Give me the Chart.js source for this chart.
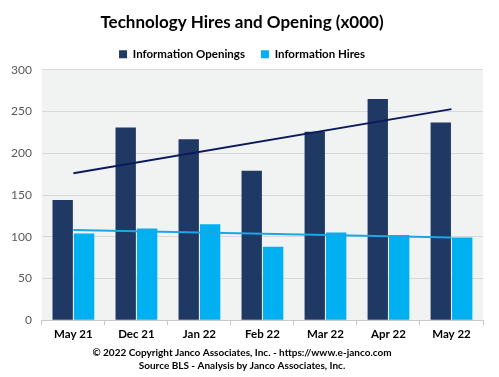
<!DOCTYPE html>
<html>
<head>
<meta charset="utf-8">
<script src="https://cdn.jsdelivr.net/npm/chart.js@4"></script>
<style>
  html, body { margin: 0; padding: 0; background: #fff; }
  #wrap { width: 499px; height: 377px; }
</style>
</head>
<body>
<div id="wrap"><canvas id="chart"></canvas></div>
<script>
// Values (thousands)
const months = ['May 21', 'Dec 21', 'Jan 22', 'Feb 22', 'Mar 22', 'Apr 22', 'May 22'];
const openings = [144, 231, 217, 179, 226, 265, 237];
const hires = [104, 110, 115, 88, 105, 102, 99];
// Trend line end points, as drawn in the reference
const openingsTrend = [176, null, null, null, null, null, 253];
const hiresTrend = [108, null, null, null, null, null, 99];
const yTicks = [0, 50, 100, 150, 200, 250, 300];

const navy = '#1f3864';
const cyan = '#00b0f0';

// grey plot area background
const plotBg = {
  id: 'plotBg',
  beforeDraw(chart) {
    const { ctx, chartArea: a } = chart;
    ctx.save();
    ctx.fillStyle = '#f1f2f2';
    ctx.fillRect(a.left, a.top, a.right - a.left, a.bottom - a.top);
    ctx.restore();
  }
};

new Chart(document.getElementById('chart'), {
  type: 'bar',
  data: {
    labels: months,
    datasets: [
      {
        label: 'Information Openings',
        data: openings,
        backgroundColor: navy,
        categoryPercentage: 0.68,
        barPercentage: 0.95,
        order: 2
      },
      {
        label: 'Information Hires',
        data: hires,
        backgroundColor: cyan,
        categoryPercentage: 0.68,
        barPercentage: 0.95,
        order: 2
      },
      {
        type: 'line',
        label: 'openings trend',
        data: openingsTrend,
        borderColor: '#0c1a5c',
        borderWidth: 2,
        pointRadius: 0,
        spanGaps: true,
        order: 1
      },
      {
        type: 'line',
        label: 'hires trend',
        data: hiresTrend,
        borderColor: '#1aa7e8',
        borderWidth: 2,
        pointRadius: 0,
        spanGaps: true,
        order: 1
      }
    ]
  },
  options: {
    responsive: true,
    maintainAspectRatio: false,
    animation: false,
    layout: { padding: { left: 1, right: 16, top: 6, bottom: 5 } },
    scales: {
      x: {
        grid: {
          offset: true,
          drawOnChartArea: false,
          drawTicks: true,
          tickLength: 5,
          color: '#c8c8c8'
        },
        border: { color: '#c8c8c8' },
        ticks: {
          color: '#000',
          font: { family: 'Lato', size: 11.5, weight: 'bold' },
          padding: 2
        }
      },
      y: {
        min: 0,
        max: 300,
        afterBuildTicks(axis) {
          axis.ticks = yTicks.map(v => ({ value: v }));
        },
        grid: { color: '#d9d9d9', drawTicks: false },
        border: { display: false },
        ticks: {
          color: '#595959',
          font: { family: 'Lato', size: 12 },
          padding: 10
        }
      }
    },
    plugins: {
      title: {
        display: true,
        text: 'Technology Hires and Opening (x000)',
        color: '#000',
        font: { family: 'Lato', size: 17, weight: 'bold' },
        padding: { top: 6, bottom: 0 }
      },
      legend: {
        display: true,
        labels: {
          filter: item => item.datasetIndex < 2,
          boxWidth: 8,
          boxHeight: 8,
          color: '#000',
          font: { family: 'Lato', size: 11.5, weight: 'bold' },
          padding: 16
        }
      },
      subtitle: {
        display: true,
        position: 'bottom',
        text: ['© 2022 Copyright Janco Associates, Inc. - https://www.e-janco.com',
               'Source BLS - Analysis by Janco Associates, Inc.'],
        color: '#000',
        font: { family: 'Lato', size: 10, weight: 'bold', lineHeight: 1.3 },
        padding: { top: 3, bottom: 0 }
      },
      tooltip: { enabled: false }
    }
  },
  plugins: [plotBg]
});
</script>
</body>
</html>
